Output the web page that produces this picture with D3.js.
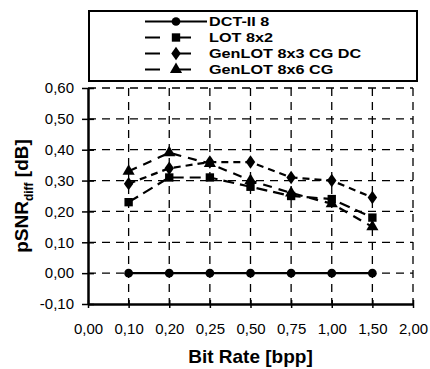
<!DOCTYPE html>
<html>
<head>
<meta charset="utf-8">
<script src="https://cdn.jsdelivr.net/npm/d3@7"></script>
<style>
  body { margin: 0; background: #fff; }
  text { font-family: "Liberation Sans", Arial, sans-serif; fill: #000; }
</style>
</head>
<body>
<div id="chart"></div>
<script>
// categories on the x axis (equally spaced, not linear)
const bitRates = ["0,00", "0,10", "0,20", "0,25", "0,50", "0,75", "1,00", "1,50", "2,00"];
const dataRates = ["0,10", "0,20", "0,25", "0,50", "0,75", "1,00", "1,50"];

// pSNR differences per codec
const dct = [0, 0, 0, 0, 0, 0, 0];
const lot = [0.23, 0.31, 0.31, 0.28, 0.25, 0.24, 0.18];
const genlot83 = [0.29, 0.34, 0.36, 0.36, 0.31, 0.30, 0.245];
const genlot86 = [0.33, 0.39, 0.355, 0.30, 0.26, 0.225, 0.15];

const yTicks = [-0.1, 0, 0.1, 0.2, 0.3, 0.4, 0.5, 0.6];

const series = [
    { name: "DCT-II 8", values: dct, marker: "circle", dash: null },
    { name: "LOT 8x2", values: lot, marker: "square", dash: "11,6" },
    { name: "GenLOT 8x3 CG DC", values: genlot83, marker: "diamond", dash: "7,5" },
    { name: "GenLOT 8x6 CG", values: genlot86, marker: "triangle", dash: "9,7" }
];

const width = 430, height = 369;
const margin = { left: 88, right: 17, top: 88, bottom: 65 };

const svg = d3.select("#chart").append("svg")
    .attr("width", width)
    .attr("height", height);

const xScale = d3.scalePoint()
    .domain(bitRates)
    .range([margin.left, width - margin.right]);

const yScale = d3.scaleLinear()
    .domain([-0.1, 0.6])
    .range([height - margin.bottom, margin.top]);

const fmt = d => d3.format(".2f")(d).replace(".", ",").replace("−", "-");

// dashed grid
const grid = svg.append("g").attr("class", "grid");
grid.selectAll("line.h")
    .data(yTicks.filter(d => d > -0.1))
    .join("line")
    .attr("class", "h")
    .attr("x1", xScale.range()[0])
    .attr("x2", xScale.range()[1])
    .attr("y1", d => yScale(d))
    .attr("y2", d => yScale(d))
    .attr("stroke", "#000")
    .attr("stroke-width", 1.3)
    .attr("stroke-dasharray", "8,6");

grid.selectAll("line.v")
    .data(bitRates.slice(1))
    .join("line")
    .attr("class", "v")
    .attr("x1", d => xScale(d))
    .attr("x2", d => xScale(d))
    .attr("y1", yScale(0.6))
    .attr("y2", yScale(-0.1))
    .attr("stroke", "#000")
    .attr("stroke-width", 1.3)
    .attr("stroke-dasharray", "8,6");

// axes
const xAxis = d3.axisBottom(xScale).tickSizeInner(8).tickSizeOuter(0).tickPadding(11);
const yAxis = d3.axisLeft(yScale).tickValues(yTicks).tickFormat(fmt).tickSizeInner(6).tickSizeOuter(0).tickPadding(8);

const gx = svg.append("g")
    .attr("transform", "translate(0," + yScale(-0.1) + ")")
    .call(xAxis);
gx.select(".domain").attr("stroke-width", 2.5);
gx.selectAll(".tick line").attr("y1", -4).attr("y2", 4).attr("stroke-width", 1.5);
gx.selectAll(".tick text").style("font-size", "15px").attr("dy", "0.75em");

const gy = svg.append("g")
    .attr("transform", "translate(" + margin.left + ",0)")
    .call(yAxis);
gy.select(".domain").attr("stroke-width", 2.5);
gy.selectAll(".tick line").attr("x1", -6).attr("x2", 6).attr("stroke-width", 1.5);
gy.selectAll(".tick text").style("font-size", "15px");

// axis titles
svg.append("text")
    .attr("x", (xScale.range()[0] + xScale.range()[1]) / 2)
    .attr("y", 363)
    .attr("text-anchor", "middle")
    .style("font-size", "19px")
    .style("font-weight", "bold")
    .text("Bit Rate [bpp]");

const yTitle = svg.append("text")
    .attr("transform", "translate(28," + 196 + ") rotate(-90)")
    .attr("text-anchor", "middle")
    .style("font-size", "19px")
    .style("font-weight", "bold");
yTitle.append("tspan").text("pSNR");
yTitle.append("tspan").attr("dy", 5).style("font-size", "12px").text("diff");
yTitle.append("tspan").attr("dy", -5).text(" [dB]");

// marker shapes
const symbolTypes = {
    circle: d3.symbolCircle,
    square: d3.symbolSquare,
    diamond: d3.symbolDiamond,
    triangle: d3.symbolTriangle
};
const symbolSizes = { circle: 60, square: 70, diamond: 64, triangle: 64 };

function drawMarker(g, type, x, y) {
    g.append("path")
        .attr("d", d3.symbol().type(symbolTypes[type]).size(symbolSizes[type])())
        .attr("transform", "translate(" + x + "," + y + ")" + (type === "diamond" ? " scale(1.1,0.9)" : ""))
        .attr("fill", "#000");
}

const line = d3.line()
    .x((d, i) => xScale(dataRates[i]))
    .y(d => yScale(d));

const plot = svg.append("g");
series.forEach(s => {
    plot.append("path")
        .datum(s.values)
        .attr("d", line)
        .attr("fill", "none")
        .attr("stroke", "#000")
        .attr("stroke-width", 2.2)
        .attr("stroke-dasharray", s.dash);
    s.values.forEach((v, i) => drawMarker(plot, s.marker, xScale(dataRates[i]), yScale(v)));
});

// legend
const legend = svg.append("g");
legend.append("rect")
    .attr("x", 89).attr("y", 11)
    .attr("width", 328).attr("height", 70)
    .attr("fill", "#fff")
    .attr("stroke", "#000")
    .attr("stroke-width", 2);

series.forEach((s, i) => {
    const y = 21.5 + i * 16;
    legend.append("line")
        .attr("x1", 145).attr("x2", 207)
        .attr("y1", y).attr("y2", y)
        .attr("stroke", "#000")
        .attr("stroke-width", 2.2)
        .attr("stroke-dasharray", s.dash ? "15,16" : null);
    drawMarker(legend, s.marker, 176, y);
    const t = legend.append("text")
        .attr("x", 209)
        .attr("y", y)
        .attr("dy", "0.36em")
        .style("font-size", "13.5px")
        .style("font-weight", "bold")
        .text(s.name);
    // the scanned legend text is wider than its height suggests
    const w = t.node().getComputedTextLength();
    t.attr("textLength", w * 1.2).attr("lengthAdjust", "spacingAndGlyphs");
});
</script>
</body>
</html>
